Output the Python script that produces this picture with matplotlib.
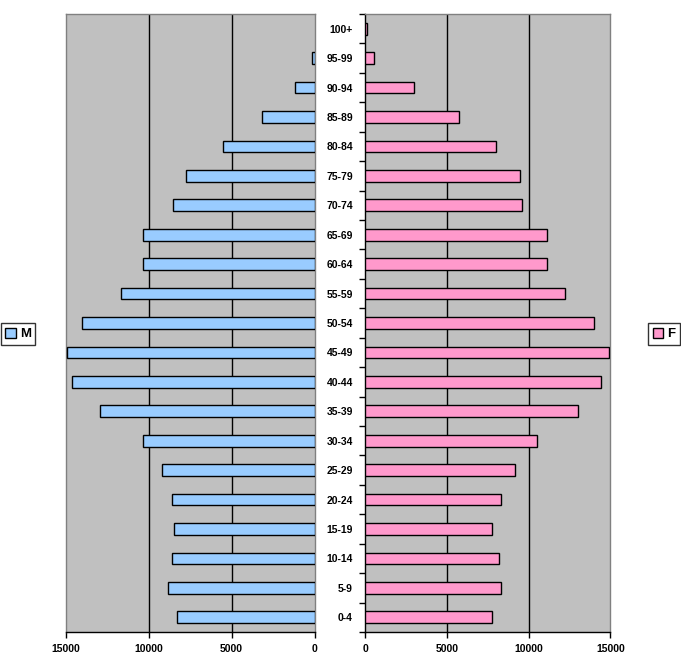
import matplotlib
matplotlib.use("Agg")
import matplotlib.pyplot as plt
from matplotlib.patches import Patch
from matplotlib.ticker import FixedLocator, NullFormatter

plt.rcParams['font.family'] = ['Liberation Sans', 'DejaVu Sans']

age_groups = ["0-4", "5-9", "10-14", "15-19", "20-24", "25-29", "30-34", "35-39",
              "40-44", "45-49", "50-54", "55-59", "60-64", "65-69", "70-74",
              "75-79", "80-84", "85-89", "90-94", "95-99", "100+"]
male = [8270, 8810, 8570, 8450, 8570, 9170, 10310, 12900, 14590, 14890, 13990,
        11640, 10310, 10310, 8500, 7720, 5490, 3140, 1160, 130, 0]
female = [7740, 8290, 8170, 7740, 8290, 9150, 10500, 13010, 14410, 14900, 13990,
          12210, 11110, 11110, 9580, 9490, 7980, 5760, 2960, 510, 120]
x_ticks = [0, 5000, 10000, 15000]

male_color = "#99CCFF"
female_color = "#FF99CC"
bg = "#C0C0C0"
frame_gray = "#808080"

W, H = 681, 669
fig = plt.figure(figsize=(W / 100, H / 100), dpi=100)
fig.patch.set_facecolor("white")

bottom = 1 - 632 / H
height = 618 / H
axL = fig.add_axes([65.5 / W, bottom, 249 / W, height])
axR = fig.add_axes([365.3 / W, bottom, 245 / W, height])

pos = list(range(len(age_groups)))
fs = 7.5

for ax, vals, col in ((axL, male, male_color), (axR, female, female_color)):
    ax.set_facecolor(bg)
    edges = ["black" if v > 0 else "none" for v in vals]
    ax.barh(pos, vals, height=0.4, color=col, edgecolor=edges, linewidth=1, zorder=3)
    ax.set_xlim(0, 15000)
    ax.set_ylim(-0.5, len(age_groups) - 0.5)
    ax.set_xticks(x_ticks)
    ax.set_xticklabels([str(v) for v in x_ticks], fontsize=fs, fontweight="bold")
    for g in (5000, 10000):
        ax.axvline(g, color="black", linewidth=1, zorder=1)
    ax.tick_params(axis="x", direction="out", length=4, width=1, pad=5)
    for s in ax.spines.values():
        s.set_color(frame_gray)
        s.set_linewidth(1)
    ax.spines["bottom"].set_color("black")

axL.invert_xaxis()
axL.set_yticks([])

# Right axis: category labels and boundary ticks
axR.spines["left"].set_color("black")
axR.set_yticks(pos)
axR.set_yticklabels(age_groups, fontsize=fs, fontweight="bold")
axR.tick_params(axis="y", which="major", length=0, pad=9)
axR.yaxis.set_minor_locator(FixedLocator([p - 0.5 for p in pos] + [len(pos) - 0.5]))
axR.yaxis.set_minor_formatter(NullFormatter())
axR.tick_params(axis="y", which="minor", length=4, width=1, direction="out")

leg_kw = dict(loc="center", frameon=True, fancybox=False, edgecolor="black",
              handlelength=0.8, handleheight=0.8, handletextpad=0.3,
              borderpad=0.35, prop={"weight": "bold", "size": 9.5})
legM = fig.legend(handles=[Patch(facecolor=male_color, edgecolor="black")], labels=["M"],
                  bbox_to_anchor=(18 / W, 1 - 334 / H), **leg_kw)
legM.get_frame().set_linewidth(1)
legF = fig.legend(handles=[Patch(facecolor=female_color, edgecolor="black")], labels=["F"],
                  bbox_to_anchor=(664 / W, 1 - 334 / H), **leg_kw)
legF.get_frame().set_linewidth(1)

fig.savefig("out.png", dpi=100, facecolor="white")
